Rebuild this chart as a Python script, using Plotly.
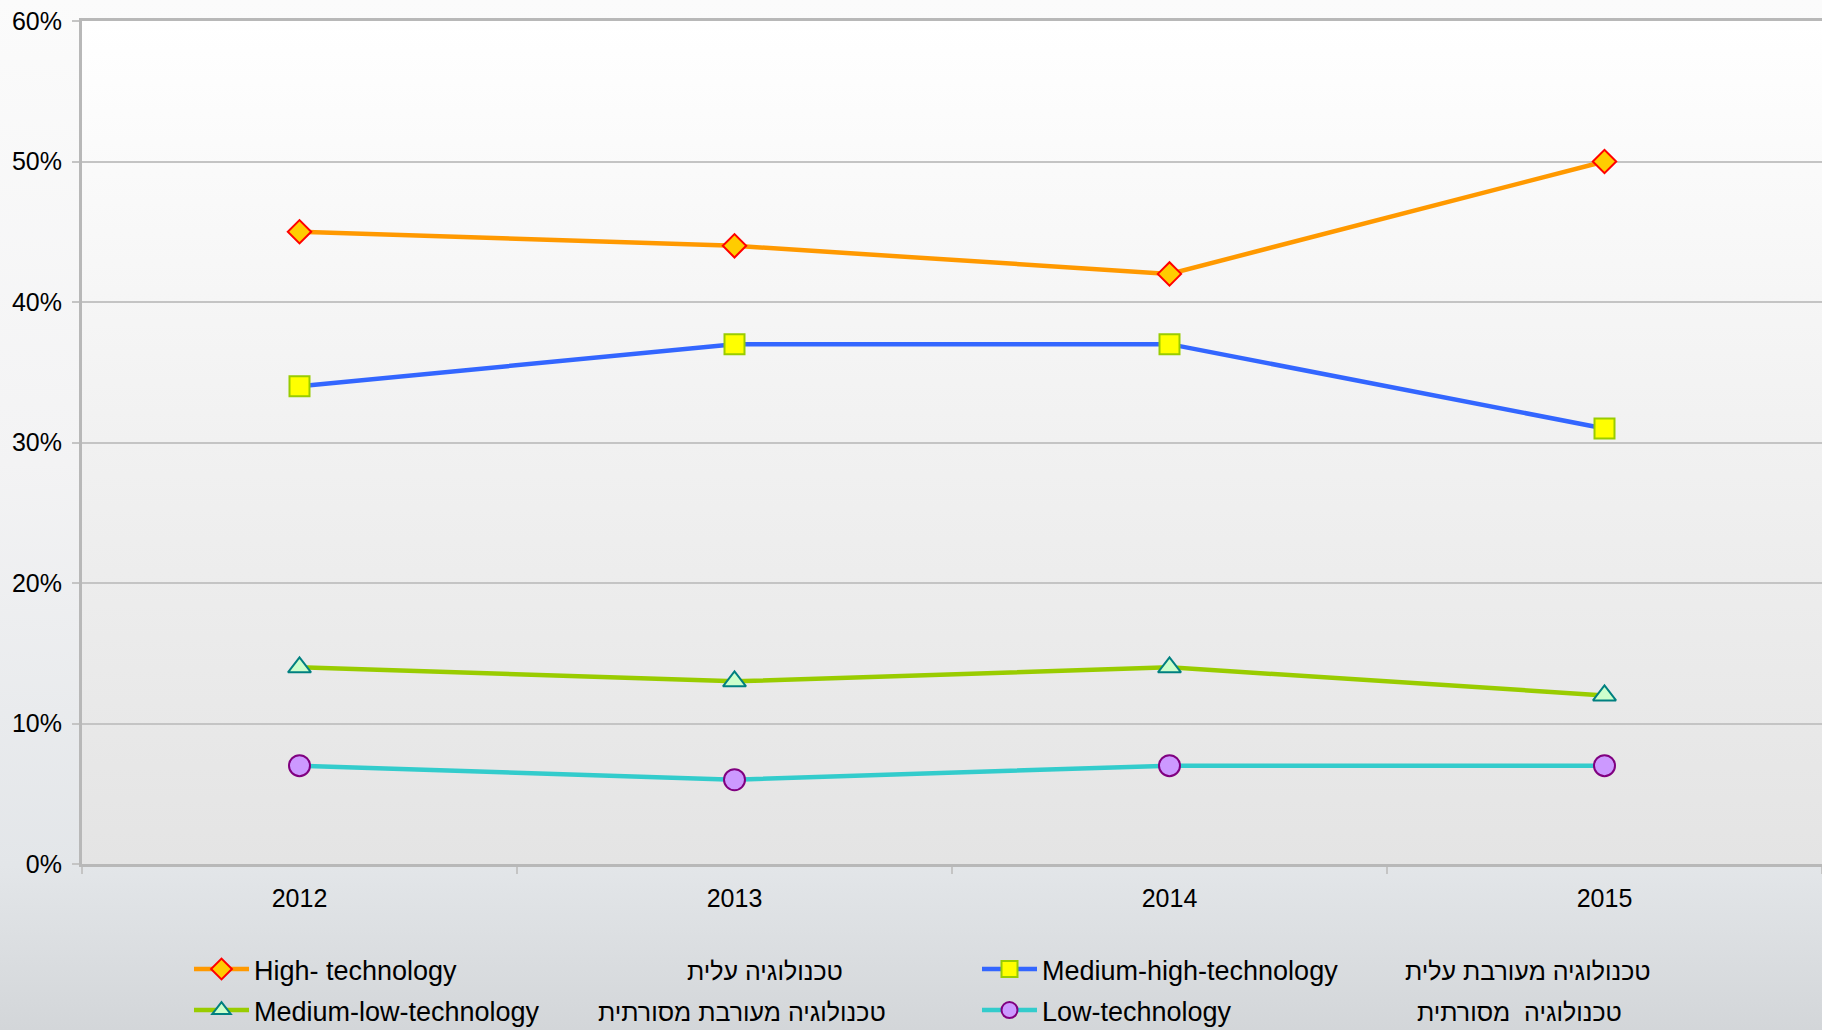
import base64
import plotly.graph_objects as go

# ---------------- data ----------------
years = ["2012", "2013", "2014", "2015"]
high_tech = [0.45, 0.44, 0.42, 0.50]
medium_high_tech = [0.34, 0.37, 0.37, 0.31]
medium_low_tech = [0.14, 0.13, 0.14, 0.12]
low_tech = [0.07, 0.06, 0.07, 0.07]

series_names = ["High- technology", "Medium-high-technology",
                "Medium-low-technology", "Low-technology"]
hebrew_names = ["טכנולוגיה עלית", "טכנולוגיה מעורבת עלית",
                "טכנולוגיה מעורבת מסורתית", "טכנולוגיה \u00a0מסורתית"]
y_ticks = [0, 0.1, 0.2, 0.3, 0.4, 0.5, 0.6]

# ---------------- geometry ----------------
W, H = 1822, 1030
ML, MR, MT, MB = 82, 0, 21, 166
PW = W - ML - MR
PH = H - MT - MB

FONT = "Liberation Sans, Arial, sans-serif"


def px_to_paper_x(px):
    return (px - ML) / PW


def px_to_paper_y(py):
    return (H - MB - py) / PH


def grad_uri(stops):
    st = "".join(f'<stop offset="{o}" stop-color="{c}"/>' for o, c in stops)
    svg = ('<svg xmlns="http://www.w3.org/2000/svg" width="10" height="100" '
           'viewBox="0 0 10 100" preserveAspectRatio="none"><defs>'
           '<linearGradient id="g" x1="0" y1="0" x2="0" y2="1">' + st +
           '</linearGradient></defs><rect width="10" height="100" fill="url(#g)"/></svg>')
    return "data:image/svg+xml;base64," + base64.b64encode(svg.encode()).decode()


page_grad = grad_uri([(0, "#fbfbfb"), (0.45, "#f3f3f4"), (0.84, "#e3e6e9"), (1, "#d3d6d9")])
plot_grad = grad_uri([(0, "#ffffff"), (0.5, "#f1f1f1"), (1, "#e4e4e4")])

fig = go.Figure()

styles = [
    dict(line=dict(color="#ff9900", width=4.5),
         marker=dict(symbol="diamond", size=18, color="#ffcc00",
                     line=dict(color="#ff0000", width=2))),
    dict(line=dict(color="#3366ff", width=4.5),
         marker=dict(symbol="square", size=20, color="#ffff00",
                     line=dict(color="#99cc00", width=2))),
    dict(line=dict(color="#99cc00", width=4.5),
         marker=dict(symbol="triangle-up", size=20, color="#ccffcc",
                     line=dict(color="#008080", width=2))),
    dict(line=dict(color="#33cccc", width=4.5),
         marker=dict(symbol="circle", size=21, color="#cc99ff",
                     line=dict(color="#800080", width=2))),
]
values = [high_tech, medium_high_tech, medium_low_tech, low_tech]
legend_ids = ["legend", "legend", "legend2", "legend2"]

for name, vals, st, lg in zip(series_names, values, styles, legend_ids):
    fig.add_trace(go.Scatter(x=years, y=vals, mode="lines+markers", name=name,
                             legend=lg, **st))

# Hebrew labels of legend entries
heb_pos = [(765, 971), (1528, 971), (742, 1012), (1519, 1012)]
for txt, (cx, cy) in zip(hebrew_names, heb_pos):
    fig.add_annotation(text=txt, x=px_to_paper_x(cx), y=px_to_paper_y(cy),
                       xref="paper", yref="paper", xanchor="center", yanchor="middle",
                       showarrow=False, font=dict(family=FONT, size=25, color="#000000"))

legend_common = dict(orientation="h", xref="paper", yref="paper",
                     xanchor="left", yanchor="top",
                     entrywidth=718, entrywidthmode="pixels",
                     bgcolor="rgba(0,0,0,0)", borderwidth=0,
                     font=dict(family=FONT, size=27, color="#000000"),
                     traceorder="normal", itemwidth=55)

fig.update_layout(
    width=W, height=H,
    margin=dict(l=ML, r=MR, t=MT, b=MB, pad=0, autoexpand=False),
    paper_bgcolor="#d8dbde",
    plot_bgcolor="#f0f0f0",
    font=dict(family=FONT, size=25, color="#000000"),
    showlegend=True,
    legend=dict(x=px_to_paper_x(189), y=px_to_paper_y(945), **legend_common),
    legend2=dict(x=px_to_paper_x(189), y=px_to_paper_y(986), **legend_common),
    images=[
        dict(source=page_grad, xref="paper", yref="paper",
             x=-ML / PW, y=1 + MT / PH, sizex=W / PW, sizey=H / PH,
             xanchor="left", yanchor="top", sizing="stretch", layer="below"),
        dict(source=plot_grad, xref="paper", yref="paper",
             x=0, y=1, sizex=1, sizey=1,
             xanchor="left", yanchor="top", sizing="stretch", layer="below"),
    ],
    xaxis=dict(type="category", range=[-0.5, 3.5], showgrid=False,
               showline=True, linecolor="#b8b8b8", linewidth=3, mirror=True,
               ticks="outside", tickson="boundaries", ticklen=7, tickcolor="#c4c4c4",
               tickwidth=1.5, ticklabelstandoff=10,
               tickfont=dict(family=FONT, size=25), zeroline=False),
    yaxis=dict(range=[0, 0.6], tickvals=y_ticks, tickformat=".0%",
               showgrid=True, gridcolor="#c4c4c4", gridwidth=1.5,
               showline=True, linecolor="#b8b8b8", linewidth=3,
               ticks="outside", ticklen=7, tickcolor="#c4c4c4", tickwidth=1.5,
               ticklabelstandoff=5, zeroline=False,
               tickfont=dict(family=FONT, size=25)),
)

fig.write_html("out.html", config={"displayModeBar": False},
               post_script="document.body.style.margin='0';document.body.style.overflow='hidden';")
